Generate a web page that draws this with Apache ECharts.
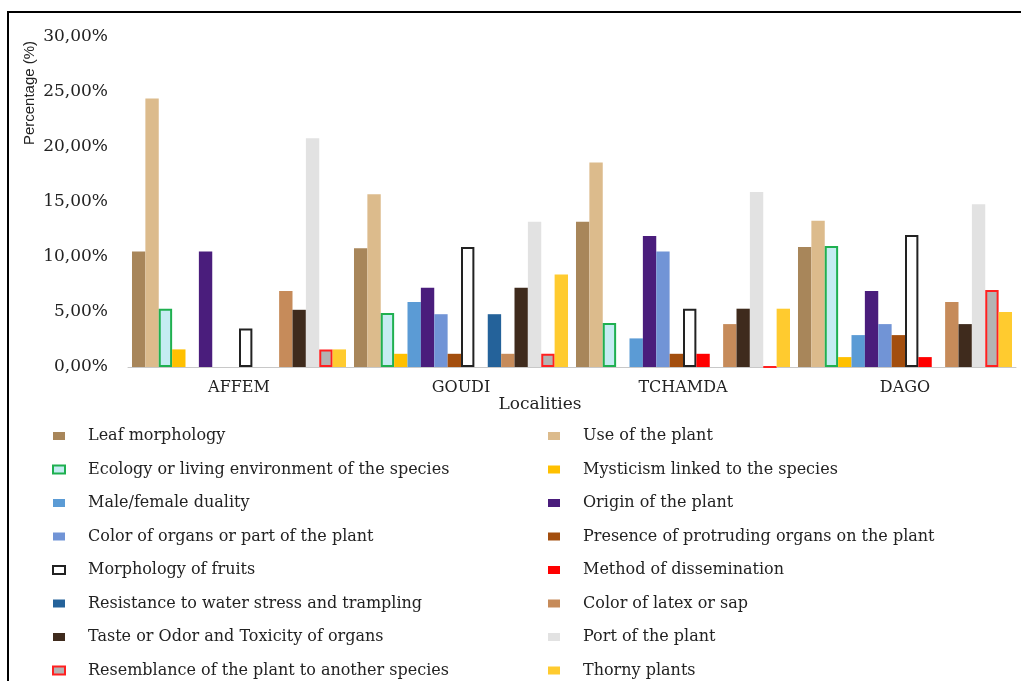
<!DOCTYPE html>
<html>
<head>
<meta charset="utf-8">
<script src="https://cdn.jsdelivr.net/npm/echarts@6/dist/echarts.min.js"></script>
<style>
  html, body { margin: 0; padding: 0; background: #fff; }
  #main { width: 1021px; height: 681px; }
</style>
</head>
<body>
<div id="main"></div>
<script>
// localities on the x axis
var localities = ['AFFEM', 'GOUDI', 'TCHAMDA', 'DAGO'];

// criteria, in bar order
var criteria = [
    'Leaf morphology', 'Use of the plant',
    'Ecology or living environment of the species', 'Mysticism linked to the species',
    'Male/female duality', 'Origin of the plant',
    'Color of organs or part of the plant', 'Presence of protruding organs on the plant',
    'Morphology of fruits', 'Method of dissemination',
    'Resistance to water stress and trampling', 'Color of latex or sap',
    'Taste or Odor and Toxicity of organs', 'Port of the plant',
    'Resemblance of the plant to another species', 'Thorny plants'
];

// percentages per locality, same order as criteria
var affem   = [10.5, 24.4, 5.3, 1.6, 0,   10.5, 0,    0,   3.5,  0,   0,   6.9, 5.2, 20.8, 1.6, 1.6];
var goudi   = [10.8, 15.7, 4.9, 1.2, 5.9, 7.2,  4.8,  1.2, 10.9, 0,   4.8, 1.2, 7.2, 13.2, 1.2, 8.4];
var tchamda = [13.2, 18.6, 4.0, 0,   2.6, 11.9, 10.5, 1.2, 5.3,  1.2, 0,   3.9, 5.3, 15.9, 0,   5.3];
var dago    = [10.9, 13.3, 11.0, 0.9, 2.9, 6.9, 3.9,  2.9, 12.0, 0.9, 0,   5.9, 3.9, 14.8, 7.0, 5.0];

var fills = ['#a8865a', '#dcbb8c', '#c5ecf2', '#ffc000', '#5b9bd5', '#4a1d7c', '#7194d6', '#a34e0e',
             '#ffffff', '#ff0000', '#24629a', '#c68b5a', '#3f2b1d', '#e2e2e2', '#b3b3b3', '#ffcb2f'];
var borders = {2: '#1fb050', 8: '#222222', 14: '#ff2020'};

var rows = [affem, goudi, tchamda, dago];
var series = criteria.map(function (name, i) {
    var st = { color: fills[i] };
    if (borders[i]) { st.borderColor = borders[i]; st.borderWidth = 2; }
    return {
        name: name,
        type: 'bar',
        barGap: 0,
        barCategoryGap: '3.6%',
        itemStyle: st,
        data: rows.map(function (r) { return r[i]; })
    };
});

// legend is laid out in two columns
var leftNames = criteria.filter(function (n, i) { return i % 2 === 0; });
var rightNames = criteria.filter(function (n, i) { return i % 2 === 1; });

var legendCommon = {
    orient: 'vertical',
    top: 422,
    height: 300,
    icon: 'rect',
    itemWidth: 12,
    itemHeight: 8,
    itemGap: 15.5,
    selectedMode: false,
    textStyle: {
        fontFamily: 'DejaVu Serif',
        fontSize: 16,
        lineHeight: 18,
        color: '#222',
        padding: [0, 0, 0, 18]
    }
};

var myChart = echarts.init(document.getElementById('main'));
var option = {
    backgroundColor: '#fff',
    animation: false,
    grid: { left: 128, right: 5, top: 37, bottom: 314 },
    legend: [
        Object.assign({ left: 47, data: leftNames }, legendCommon),
        Object.assign({ left: 543, data: rightNames }, legendCommon)
    ],
    xAxis: {
        type: 'category',
        data: localities,
        axisLine: { lineStyle: { color: '#c8c8c8', width: 1 } },
        axisTick: { show: false },
        axisLabel: {
            margin: 13,
            fontFamily: 'DejaVu Serif',
            fontSize: 16,
            color: '#222'
        }
    },
    yAxis: {
        type: 'value',
        min: 0,
        max: 30,
        interval: 5,
        splitLine: { show: false },
        axisLine: { show: false },
        axisTick: { show: false },
        axisLabel: {
            margin: 20,
            fontFamily: 'DejaVu Serif',
            fontSize: 17,
            color: '#222',
            formatter: function (v) { return v.toFixed(2).replace('.', ',') + '%'; }
        }
    },
    graphic: [
        {
            type: 'rect',
            shape: { x: 8, y: 12, width: 1040, height: 700 },
            style: { fill: null, stroke: '#000', lineWidth: 2 },
            silent: true
        },
        {
            type: 'text',
            x: 30, y: 93,
            rotation: Math.PI / 2,
            style: {
                text: 'Percentage (%)',
                font: '15px "Liberation Sans"',
                fill: '#222',
                align: 'center',
                verticalAlign: 'middle'
            }
        },
        {
            type: 'text',
            x: 540, y: 405,
            style: {
                text: 'Localities',
                font: '17px "DejaVu Serif"',
                fill: '#222',
                align: 'center',
                verticalAlign: 'middle'
            }
        }
    ],
    series: series
};
myChart.setOption(option);
</script>
</body>
</html>
